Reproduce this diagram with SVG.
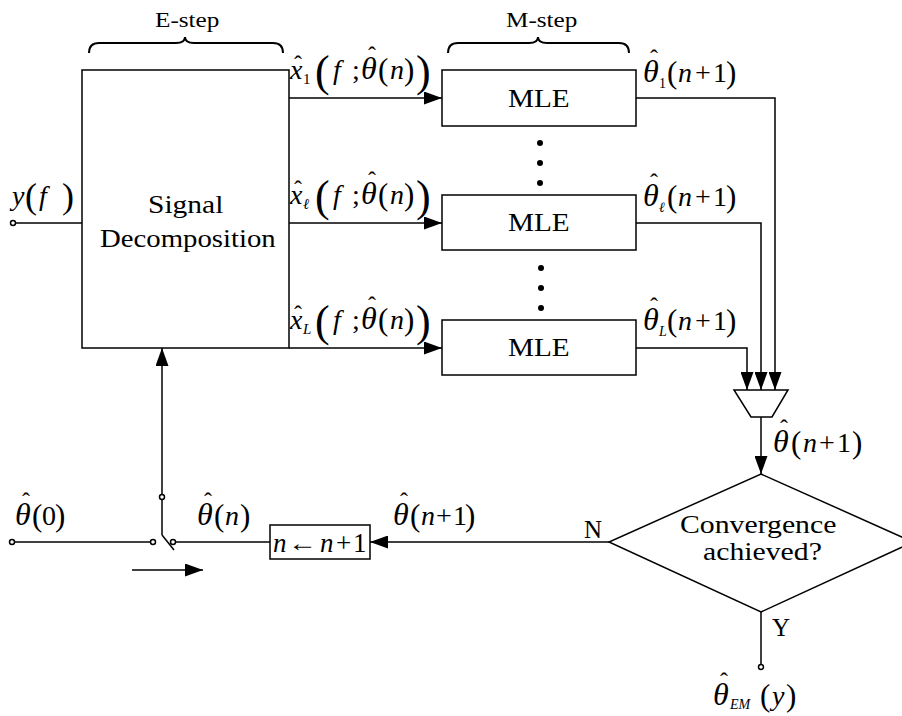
<svg xmlns="http://www.w3.org/2000/svg" width="902" height="716" viewBox="0 0 902 716">
<defs>
<style>
.t{font-family:"Liberation Serif","Times New Roman",serif;fill:#000}
.i{font-style:italic}
.th{font-style:italic;font-size:32px}
.hat{font-size:24px}
.ln{stroke:#000;stroke-width:1.5;fill:none}
.box{stroke:#000;stroke-width:1.5;fill:#fff}
.brace{stroke:#000;stroke-width:2;fill:none}
.dot{fill:#000}
</style>
<marker id="ah" markerUnits="userSpaceOnUse" markerWidth="18" markerHeight="13" refX="18" refY="6.5" orient="auto">
<path d="M0,0 L18,6.5 L0,13 z" fill="#000"/>
</marker>
</defs>
<rect width="902" height="716" fill="#fff"/>

<g id="connectors">
<circle class="ln" cx="13" cy="223" r="2.5" stroke-width="1"/>
<line class="ln" x1="15.5" y1="223" x2="82" y2="223"/>
<line class="ln" x1="289" y1="98" x2="442" y2="98" marker-end="url(#ah)"/>
<line class="ln" x1="289" y1="223" x2="442" y2="223" marker-end="url(#ah)"/>
<line class="ln" x1="289" y1="348" x2="442" y2="348" marker-end="url(#ah)"/>
<polyline class="ln" points="636,98 775,98 775,390" marker-end="url(#ah)"/>
<polyline class="ln" points="636,223 761,223 761,390" marker-end="url(#ah)"/>
<polyline class="ln" points="636,348 747,348 747,390" marker-end="url(#ah)"/>
<line class="ln" x1="761" y1="417" x2="761" y2="474" marker-end="url(#ah)"/>
<line class="ln" x1="609" y1="542" x2="370" y2="542" marker-end="url(#ah)"/>
<line class="ln" x1="270" y1="542" x2="175.5" y2="542"/>
<circle class="ln" cx="173" cy="542" r="2.5" stroke-width="1"/>
<circle class="ln" cx="153" cy="542" r="2.5" stroke-width="1"/>
<circle class="ln" cx="162" cy="497" r="2.5" stroke-width="1"/>
<line class="ln" x1="162" y1="499.5" x2="162" y2="535"/>
<line class="ln" x1="162" y1="535" x2="174" y2="550"/>
<line class="ln" x1="162" y1="494.5" x2="162" y2="348" marker-end="url(#ah)"/>
<circle class="ln" cx="12" cy="542" r="2.5" stroke-width="1"/>
<line class="ln" x1="14.5" y1="542" x2="150.5" y2="542"/>
<line class="ln" x1="132" y1="570" x2="203" y2="570" marker-end="url(#ah)"/>
<line class="ln" x1="761" y1="612" x2="761" y2="664.5"/>
<circle class="ln" cx="761" cy="667" r="2.5" stroke-width="1"/>
</g>

<g id="estep-label">
<path class="brace" d="M89,53 Q89,43 99,43 L176,43 Q185,43 185,37 Q185,43 194,43 L273,43 Q283,43 283,53"/>
<text class="t" transform="translate(155,27) scale(1.2,1)" font-size="21">E-step</text>
</g>
<g id="mstep-label">
<path class="brace" d="M448,53 Q448,43 458,43 L529,43 Q538,43 538,37 Q538,43 547,43 L619,43 Q629,43 629,53"/>
<text class="t" transform="translate(506,27) scale(1.2,1)" font-size="21">M-step</text>
</g>

<g id="decomposition">
<rect class="box" x="82" y="70" width="207" height="278"/>
<text class="t" transform="translate(148,213) scale(1.18,1)" font-size="25">Signal</text>
<text class="t" transform="translate(100,247) scale(1.15,1)" font-size="25">Decomposition</text>
</g>

<g id="mle1">
<rect class="box" x="442" y="70" width="194" height="56"/>
<text class="t" transform="translate(508,107) scale(1.17,1)" font-size="25">MLE</text>
</g>
<g id="mle2">
<rect class="box" x="442" y="195" width="194" height="55"/>
<text class="t" transform="translate(508,231) scale(1.17,1)" font-size="25">MLE</text>
</g>
<g id="mle3">
<rect class="box" x="442" y="320" width="194" height="55"/>
<text class="t" transform="translate(508,356) scale(1.17,1)" font-size="25">MLE</text>
</g>
<g id="dots">
<circle class="dot" cx="540" cy="143" r="3"/>
<circle class="dot" cx="540" cy="163" r="3"/>
<circle class="dot" cx="540" cy="183" r="3"/>
<circle class="dot" cx="541" cy="268" r="3"/>
<circle class="dot" cx="541" cy="288" r="3"/>
<circle class="dot" cx="541" cy="308" r="3"/>
</g>

<g id="combiner">
<polygon class="box" points="734,390 788,390 772,417 751,417"/>
</g>

<g id="convergence">
<polygon class="box" points="761,474 913,542 761,612 609,542"/>
<text class="t" transform="translate(680,533) scale(1.19,1)" font-size="25">Convergence</text>
<text class="t" transform="translate(703,560) scale(1.19,1)" font-size="25">achieved?</text>
</g>

<g id="increment">
<rect class="box" x="270" y="525" width="100" height="34"/>
<text class="t" font-size="27"><tspan class="i" x="273" y="552">n</tspan><tspan class="i" x="320" y="552">n</tspan><tspan x="336" y="552">+</tspan><tspan x="353" y="552">1</tspan></text>
<text class="t" x="288" y="551" font-size="24" textLength="29" lengthAdjust="spacingAndGlyphs">←</text>
</g>

<g id="labels">
<!-- y(f) -->
<text class="t" font-size="28"><tspan class="i" x="12" y="205">y</tspan><tspan x="25" y="208" font-size="36">(</tspan><tspan class="i" x="39" y="205">f</tspan><tspan x="62" y="208" font-size="36">)</tspan></text>

<!-- x1 -->
<text class="t" font-size="28"><tspan class="hat" x="294" y="72">ˆ</tspan><tspan class="i" x="290" y="79">x</tspan><tspan x="303" y="84" font-size="15">1</tspan><tspan x="315" y="86" font-size="44">(</tspan><tspan class="i" x="333" y="79">f</tspan><tspan x="352" y="79">;</tspan><tspan class="hat" x="368" y="63">ˆ</tspan><tspan class="th" x="361" y="79">θ</tspan><tspan x="378" y="80" font-size="31">(</tspan><tspan class="i" x="390" y="79">n</tspan><tspan x="404" y="80" font-size="31">)</tspan><tspan x="416" y="86" font-size="44">)</tspan></text>
<!-- xl -->
<text class="t" font-size="28"><tspan class="hat" x="294" y="197">ˆ</tspan><tspan class="i" x="290" y="204">x</tspan><tspan class="i" x="303" y="209" font-size="15">ℓ</tspan><tspan x="315" y="211" font-size="44">(</tspan><tspan class="i" x="333" y="204">f</tspan><tspan x="352" y="204">;</tspan><tspan class="hat" x="368" y="188">ˆ</tspan><tspan class="th" x="361" y="204">θ</tspan><tspan x="378" y="205" font-size="31">(</tspan><tspan class="i" x="390" y="204">n</tspan><tspan x="404" y="205" font-size="31">)</tspan><tspan x="416" y="211" font-size="44">)</tspan></text>
<!-- xL -->
<text class="t" font-size="28"><tspan class="hat" x="294" y="322">ˆ</tspan><tspan class="i" x="290" y="329">x</tspan><tspan class="i" x="303" y="334" font-size="15">L</tspan><tspan x="315" y="336" font-size="44">(</tspan><tspan class="i" x="333" y="329">f</tspan><tspan x="352" y="329">;</tspan><tspan class="hat" x="368" y="313">ˆ</tspan><tspan class="th" x="361" y="329">θ</tspan><tspan x="378" y="330" font-size="31">(</tspan><tspan class="i" x="390" y="329">n</tspan><tspan x="404" y="330" font-size="31">)</tspan><tspan x="416" y="336" font-size="44">)</tspan></text>

<!-- theta1(n+1) -->
<text class="t" font-size="28"><tspan class="hat" x="650" y="66">ˆ</tspan><tspan class="th" x="643" y="82">θ</tspan><tspan x="659" y="88" font-size="14">1</tspan><tspan x="667" y="83" font-size="31">(</tspan><tspan class="i" x="678" y="82">n</tspan><tspan x="695" y="82">+</tspan><tspan x="713" y="82">1</tspan><tspan x="726" y="83" font-size="31">)</tspan></text>
<!-- thetal(n+1) -->
<text class="t" font-size="28"><tspan class="hat" x="650" y="190">ˆ</tspan><tspan class="th" x="643" y="206">θ</tspan><tspan class="i" x="659" y="212" font-size="14">ℓ</tspan><tspan x="667" y="207" font-size="31">(</tspan><tspan class="i" x="678" y="206">n</tspan><tspan x="695" y="206">+</tspan><tspan x="713" y="206">1</tspan><tspan x="726" y="207" font-size="31">)</tspan></text>
<!-- thetaL(n+1) -->
<text class="t" font-size="28"><tspan class="hat" x="650" y="314">ˆ</tspan><tspan class="th" x="643" y="330">θ</tspan><tspan class="i" x="659" y="336" font-size="14">L</tspan><tspan x="667" y="331" font-size="31">(</tspan><tspan class="i" x="678" y="330">n</tspan><tspan x="695" y="330">+</tspan><tspan x="713" y="330">1</tspan><tspan x="726" y="331" font-size="31">)</tspan></text>

<!-- theta(n+1) combiner -->
<text class="t" font-size="28"><tspan class="hat" x="780" y="436">ˆ</tspan><tspan class="th" x="773" y="452">θ</tspan><tspan x="791" y="453" font-size="31">(</tspan><tspan class="i" x="803" y="452">n</tspan><tspan x="819" y="452">+</tspan><tspan x="837" y="452">1</tspan><tspan x="852" y="453" font-size="31">)</tspan></text>

<!-- theta(n+1) bottom -->
<text class="t" font-size="28"><tspan class="hat" x="400" y="509">ˆ</tspan><tspan class="th" x="393" y="525">θ</tspan><tspan x="410" y="526" font-size="31">(</tspan><tspan class="i" x="421" y="525">n</tspan><tspan x="436" y="525">+</tspan><tspan x="453" y="525">1</tspan><tspan x="465" y="526" font-size="31">)</tspan></text>
<!-- theta(n) -->
<text class="t" font-size="28"><tspan class="hat" x="204" y="509">ˆ</tspan><tspan class="th" x="197" y="525">θ</tspan><tspan x="214" y="526" font-size="31">(</tspan><tspan class="i" x="225" y="525">n</tspan><tspan x="240" y="526" font-size="31">)</tspan></text>
<!-- theta(0) -->
<text class="t" font-size="28"><tspan class="hat" x="22" y="509">ˆ</tspan><tspan class="th" x="15" y="525">θ</tspan><tspan x="32" y="526" font-size="31">(</tspan><tspan x="42" y="525">0</tspan><tspan x="55" y="526" font-size="31">)</tspan></text>

<text class="t" x="584" y="538" font-size="25">N</text>
<text class="t" x="772" y="636" font-size="25">Y</text>

<!-- theta_EM(y) -->
<text class="t" font-size="28"><tspan class="hat" x="720" y="689">ˆ</tspan><tspan class="th" x="713" y="705">θ</tspan><tspan class="i" x="730" y="709" font-size="14">EM</tspan><tspan x="760" y="706" font-size="31">(</tspan><tspan class="i" x="772" y="705">y</tspan><tspan x="786" y="706" font-size="31">)</tspan></text>
</g>
</svg>
